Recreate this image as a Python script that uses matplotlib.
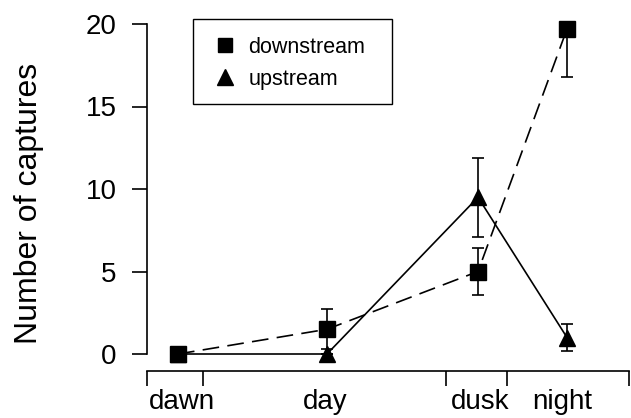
import matplotlib
matplotlib.use("Agg")
import matplotlib.pyplot as plt
from matplotlib.lines import Line2D
from matplotlib.patches import Rectangle

plt.rcParams['font.family'] = ['Liberation Sans', 'DejaVu Sans']

categories = ["dawn", "day", "dusk", "night"]
boundaries = [0, 5.6, 29.9, 36.0, 48.2]
cat_pos = [3.1, 18.0, 33.1, 42.0]
label_pos = [3.5, 17.8, 33.3, 41.5]

down_vals = [0.0, 1.5, 5.0, 19.7]
down_err_lo = [0.0, 1.2, 1.4, 2.9]
down_err_hi = [0.0, 1.2, 1.4, 0.0]

up_vals = [0.0, 0.0, 9.5, 1.0]
up_err_lo = [0.0, 0.0, 2.4, 0.8]
up_err_hi = [0.0, 0.0, 2.4, 0.8]

yticks = [0, 5, 10, 15, 20]

W, H = 631, 418
fig = plt.figure(figsize=(W / 100, H / 100), dpi=100)
ax = fig.add_axes([147/W, 47.5/H, 482/W, 363/H])

ax.errorbar(cat_pos, down_vals, yerr=[down_err_lo, down_err_hi], color='black',
            lw=1.2, dashes=(10, 5), marker='s', ms=11, capsize=4.5, elinewidth=1.2,
            capthick=1.2, clip_on=False, zorder=3)
ax.errorbar(cat_pos, up_vals, yerr=[up_err_lo, up_err_hi], color='black',
            lw=1.2, marker='^', ms=12, capsize=4.5, elinewidth=1.2,
            capthick=1.2, clip_on=False, zorder=3)

ax.set_xlim(boundaries[0], boundaries[-1])
ax.set_ylim(-1, 21)
ax.set_yticks(yticks)
ax.set_yticklabels([str(v) for v in yticks], fontsize=20)
ax.set_xticks(boundaries)
ax.set_xticklabels([])
ax.set_xticks(label_pos, minor=True)
ax.set_xticklabels(categories, minor=True, fontsize=20)
ax.tick_params(axis='x', which='minor', length=0, pad=13)
ax.tick_params(axis='x', which='major', length=11, width=1.2, direction='out')
ax.tick_params(axis='y', length=11, width=1.2, direction='out', pad=11)

for s in ['top', 'right']:
    ax.spines[s].set_visible(False)
ax.spines['left'].set_bounds(0, 20)
ax.spines['left'].set_linewidth(1.2)
ax.spines['bottom'].set_linewidth(1.2)

ax.set_ylabel("Number of captures", fontsize=23)
ax.yaxis.set_label_coords((44 - 147) / 482, (370.5 - 203.5) / 363)

# legend frame
fig.patches.append(Rectangle((193/W, 1 - 104/H), (392 - 193)/W, (104 - 19)/H,
                             transform=fig.transFigure, fill=False,
                             edgecolor='black', lw=1.0))

handles = [Line2D([], [], color='black', marker='s', ls='none', ms=10),
           Line2D([], [], color='black', marker='^', ls='none', ms=11)]
leg = ax.legend(handles, ["downstream", "upstream"], loc='upper left',
                bbox_to_anchor=(214/W, 1 - 37/H), bbox_transform=fig.transFigure,
                fontsize=15.5, frameon=False, handlelength=1.0, handletextpad=0.6,
                borderpad=0, labelspacing=0.5, borderaxespad=0)

fig.savefig("out.png", dpi=100)
